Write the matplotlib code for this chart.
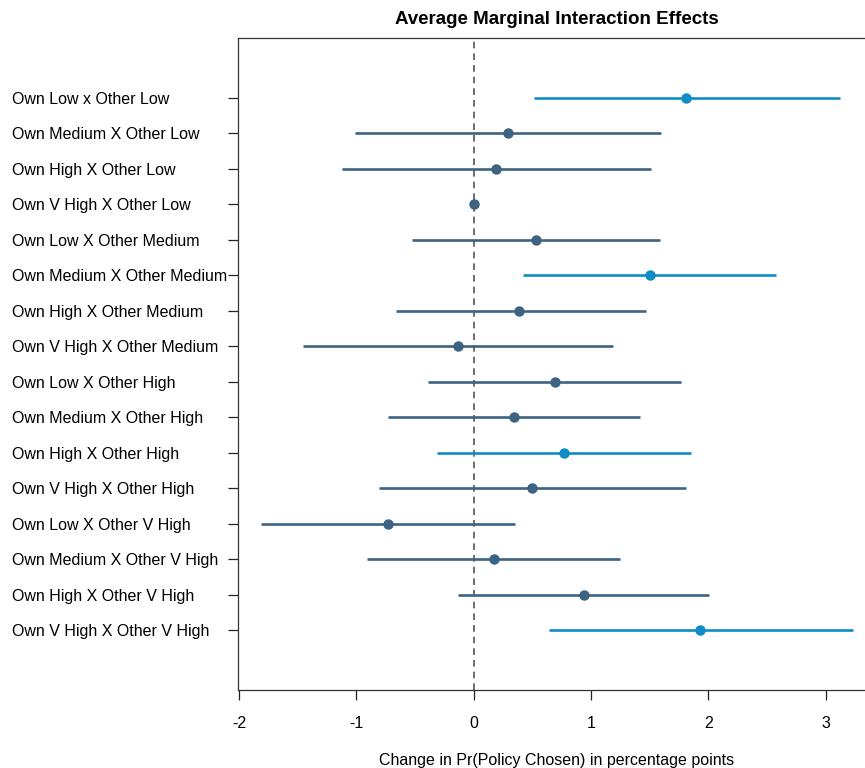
import matplotlib.pyplot as plt

# effects (percentage points)
labels = [
    "Own Low x Other Low", "Own Medium X Other Low", "Own High X Other Low",
    "Own V High X Other Low", "Own Low X Other Medium", "Own Medium X Other Medium",
    "Own High X Other Medium", "Own V High X Other Medium", "Own Low X Other High",
    "Own Medium X Other High", "Own High X Other High", "Own V High X Other High",
    "Own Low X Other V High", "Own Medium X Other V High", "Own High X Other V High",
    "Own V High X Other V High",
]
est = [1.81, 0.29, 0.19, 0.0, 0.53, 1.50, 0.39, -0.13, 0.69, 0.34, 0.77, 0.50, -0.73, 0.17, 0.94, 1.93]
lo = [0.51, -1.01, -1.12, 0.0, -0.53, 0.42, -0.66, -1.46, -0.39, -0.73, -0.31, -0.81, -1.81, -0.91, -0.13, 0.64]
hi = [3.12, 1.60, 1.51, 0.0, 1.59, 2.58, 1.47, 1.19, 1.77, 1.42, 1.85, 1.81, 0.35, 1.25, 2.01, 3.23]
same_level = [True, False, False, False, False, True, False, False,
              False, False, True, False, False, False, False, True]

cyan = "#0f8cc6"
slate = "#3d6382"

plt.rcParams['font.family'] = ['Liberation Sans', 'DejaVu Sans']

fig = plt.figure(figsize=(8.65, 7.68), dpi=100)
W, H = 865, 768
ax = fig.add_axes([238 / W, (H - 690) / H, (876 - 238) / W, (690 - 38) / H])

n = len(labels)
ypos = [n - i for i in range(n)]

ax.axvline(0, color="#555555", lw=1.2, ls=(0, (4, 3)), zorder=1)
for y, e, l, h, hl in zip(ypos, est, lo, hi, same_level):
    c = cyan if hl else slate
    ax.plot([l, h], [y, y], color=c, lw=1.9, solid_capstyle='butt', zorder=2)
    ax.plot(e, y, 'o', color=c, ms=6.5, zorder=3)

ax.set_xlim(-2.01, 3.43)
ax.set_ylim(-0.68, n + 1.68)
ax.set_xticks([-2, -1, 0, 1, 2, 3])
ax.set_xticklabels(["-2", "-1", "0", "1", "2", "3"], fontsize=11.5)
ax.set_yticks(ypos)
ax.set_yticklabels(labels, fontsize=11.5, ha='left')
ax.tick_params(axis='y', length=7, width=0.9, pad=156, colors='#222222', labelcolor='black')
ax.tick_params(axis='x', length=7, width=0.9, pad=12, colors='#222222', labelcolor='black')

for s in ['left', 'bottom', 'top', 'right']:
    ax.spines[s].set_color('#333333')
    ax.spines[s].set_linewidth(0.9)

fig.text(557 / W, 1 - 20 / H, "Average Marginal Interaction Effects",
         fontsize=13.5, fontweight='bold', ha='center', va='center')
fig.text(557 / W, 1 - 760 / H, "Change in Pr(Policy Chosen) in percentage points",
         fontsize=11.5, ha='center', va='center')

fig.savefig("out.png", dpi=100)
